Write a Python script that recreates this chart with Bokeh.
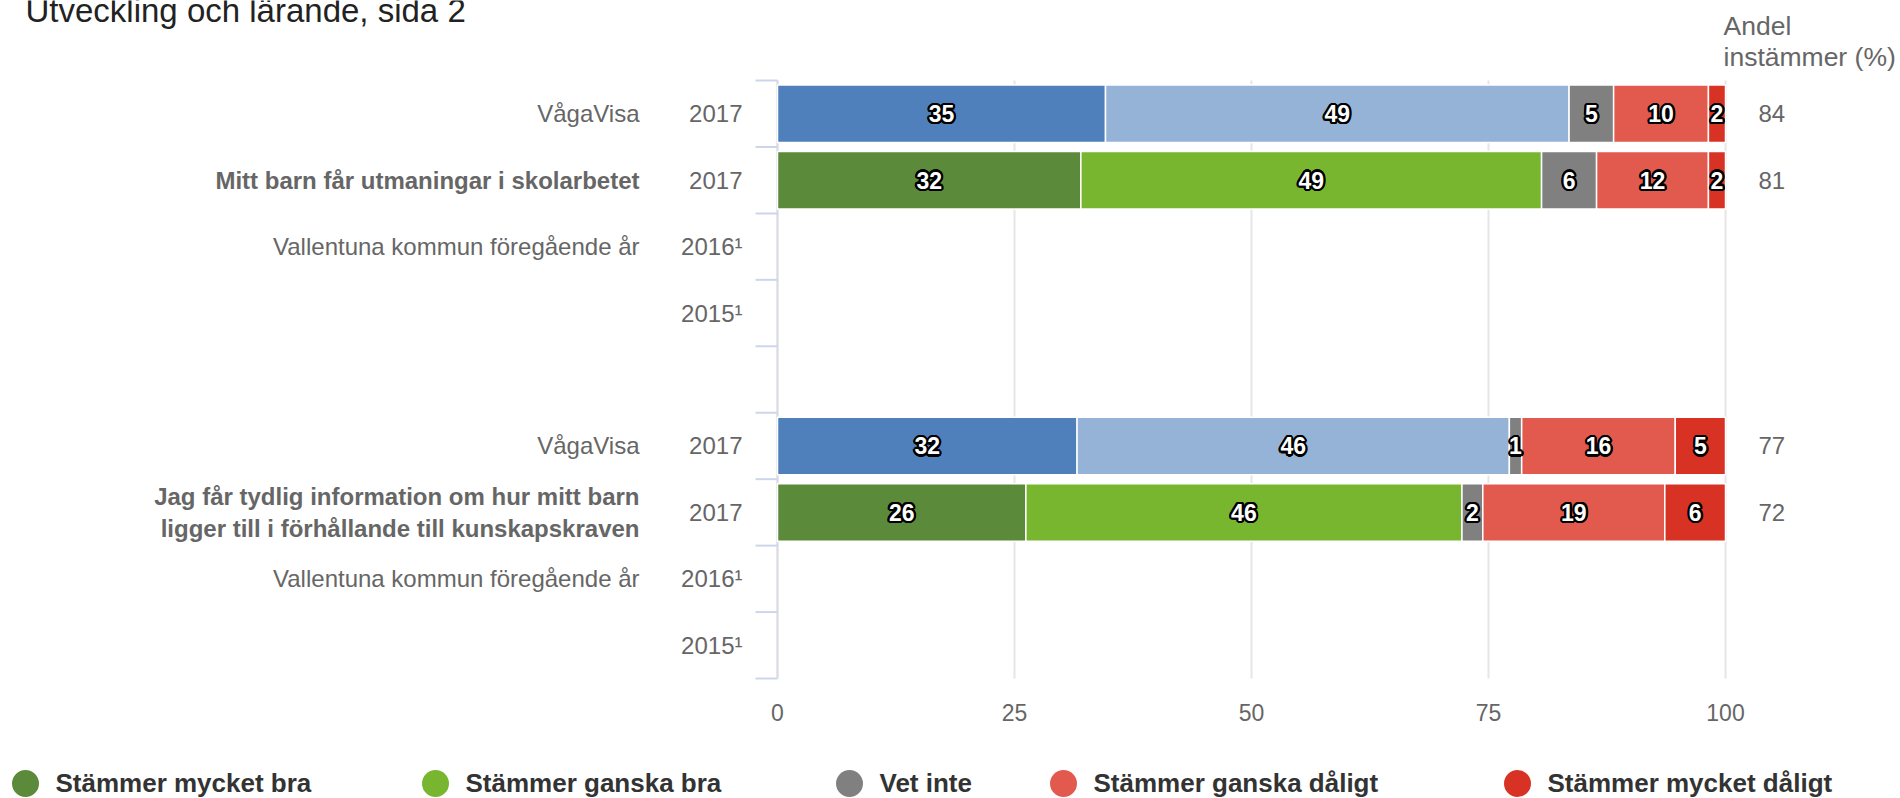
import math
from bokeh.plotting import figure
from bokeh.models import ColumnDataSource, Range1d
from bokeh.embed import file_html
from bokeh.resources import INLINE
from bokeh.core.properties import value

# ---------------- data ----------------
title = "Utveckling och lärande, sida 2"
series_names = ["Stämmer mycket bra", "Stämmer ganska bra", "Vet inte",
                "Stämmer ganska dåligt", "Stämmer mycket dåligt"]

# 9 category slots from top to bottom
slot_names = ["VågaVisa", "Mitt barn får utmaningar i skolarbetet",
              "Vallentuna kommun föregående år", "", "",
              "VågaVisa", "Jag får tydlig information om hur mitt barn|ligger till i förhållande till kunskapskraven",
              "Vallentuna kommun föregående år", ""]
slot_years = ["2017", "2017", "2016¹", "2015¹", "", "2017", "2017", "2016¹", "2015¹"]
slot_bold = [False, True, False, False, False, False, True, False, False]

# rows with bars (slot index)
bar_slots = [0, 1, 5, 6]
bar_is_vagavisa = [True, False, True, False]
mycket_bra = [34.6, 32.0, 31.6, 26.2]
ganska_bra = [48.9, 48.6, 45.6, 46.0]
vet_inte = [4.7, 5.8, 1.3, 2.2]
ganska_daligt = [10.0, 11.8, 16.2, 19.2]
mycket_daligt = [1.8, 1.8, 5.3, 6.4]
lbl_mycket_bra = ["35", "32", "32", "26"]
lbl_ganska_bra = ["49", "49", "46", "46"]
lbl_vet_inte = ["5", "6", "1", "2"]
lbl_ganska_daligt = ["10", "12", "16", "19"]
lbl_mycket_daligt = ["2", "2", "5", "6"]
andel_instammer = ["84", "81", "77", "72"]
x_ticks = [0, 25, 50, 75, 100]

# ---------------- styles / layout ----------------
FONT = "Liberation Sans"
colors_vaga = ["#4f80bc", "#95b3d7", "#808080", "#e25a4d", "#d73223"]
colors_main = ["#5b8b3a", "#77b62e", "#808080", "#e25a4d", "#d73223"]
legend_colors = colors_main
GREY_TXT = "#666666"

W, H = 1900, 798
FL, FR, FT, FB = 777, 1725, 80, 678       # plot area in pixels
NSLOT = 9
PPX = (FR - FL) / 100.0                    # px per x unit
PPY = (FB - FT) / NSLOT                    # px per slot


def slot_y(i):
    return NSLOT - i - 0.5


p = figure(width=W, height=H,
           x_range=Range1d(-FL / PPX, (W - FL) / PPX),
           y_range=Range1d(-(H - FB) / PPY, NSLOT + FT / PPY),
           output_backend="svg", toolbar_location=None, min_border=0,
           x_axis_location=None, y_axis_location=None)
p.extra_x_ranges = {"px": Range1d(0, W)}
p.extra_y_ranges = {"px": Range1d(H, 0)}
p.outline_line_color = None
p.grid.visible = False
p.background_fill_color = "white"
p.border_fill_color = "white"

# vertical grid lines within plot area
p.segment(x0=x_ticks, y0=[0] * len(x_ticks), x1=x_ticks, y1=[NSLOT] * len(x_ticks),
          line_color="#e6e6e6", line_width=2)

# category axis line and ticks
p.segment(x0=[0], y0=[0], x1=[0], y1=[NSLOT], line_color="#d9dce4", line_width=2)
bounds = list(range(NSLOT + 1))
p.segment(x0=[FL - 22] * len(bounds), y0=bounds, x1=[FL] * len(bounds), y1=bounds,
          x_range_name="px", line_color="#ccd6eb", line_width=2)

# x tick labels
p.text(x=x_ticks, y=[712] * len(x_ticks), text=[str(t) for t in x_ticks], y_range_name="px",
       text_font=value(FONT), text_font_size="23px", text_color=GREY_TXT,
       text_align="center", text_baseline="middle")

# bars
series = [mycket_bra, ganska_bra, vet_inte, ganska_daligt, mycket_daligt]
labels = [lbl_mycket_bra, lbl_ganska_bra, lbl_vet_inte, lbl_ganska_daligt, lbl_mycket_daligt]
bl, br, by, bc, lx, ly, lt = [], [], [], [], [], [], []
for r, slot in enumerate(bar_slots):
    cum = 0.0
    pal = colors_vaga if bar_is_vagavisa[r] else colors_main
    for s in range(len(series)):
        v = series[s][r]
        bl.append(cum)
        br.append(cum + v)
        by.append(slot_y(slot))
        bc.append(pal[s])
        lx.append(cum + v / 2)
        ly.append(slot_y(slot))
        lt.append(labels[s][r])
        cum += v

bars = ColumnDataSource(dict(left=bl, right=br, y=by, color=bc))
p.hbar(y="y", left="left", right="right", height=0.865, fill_color="color",
       line_color="white", line_width=1.5, source=bars)

# data labels: white bold text with thick dark outline
lab_src = ColumnDataSource(dict(x=lx, y=ly, text=lt))
for k in range(16):
    a = 2 * math.pi * k / 16
    p.text(x="x", y="y", text="text", source=lab_src, text_font=value(FONT),
           text_font_size="23px", text_font_style="bold", text_color="black",
           x_offset=2.2 * math.cos(a), y_offset=2.2 * math.sin(a),
           text_align="center", text_baseline="middle")
p.text(x="x", y="y", text="text", source=lab_src, text_font=value(FONT),
       text_font_size="23px", text_font_style="bold", text_color="white",
       text_align="center", text_baseline="middle")

# left labels
nx, ny, nt, nw = [], [], [], []
for i in range(NSLOT):
    name = slot_names[i]
    if name:
        parts = name.split("|")
        n = len(parts)
        for k, part in enumerate(parts):
            off = (k - (n - 1) / 2) * 31.5
            nx.append(639)
            ny.append(slot_y(i) - off / PPY)
            nt.append(part)
            nw.append("bold" if slot_bold[i] else "normal")
name_src = ColumnDataSource(dict(x=nx, y=ny, text=nt, w=nw))
p.text(x="x", y="y", text="text", text_font_style="w", source=name_src, x_range_name="px",
       text_font=value(FONT), text_font_size="24px", text_color=GREY_TXT,
       text_align="right", text_baseline="middle")

yr_idx = [i for i in range(NSLOT) if slot_years[i]]
p.text(x=[742] * len(yr_idx), y=[slot_y(i) for i in yr_idx], text=[slot_years[i] for i in yr_idx],
       x_range_name="px", text_font=value(FONT), text_font_size="24px", text_color=GREY_TXT,
       text_align="right", text_baseline="middle")

# right column
p.text(x=[1758] * len(bar_slots), y=[slot_y(s) for s in bar_slots], text=andel_instammer,
       x_range_name="px", text_font=value(FONT), text_font_size="24px", text_color=GREY_TXT,
       text_align="left", text_baseline="middle")
p.text(x=[1723, 1723], y=[25, 56], text=["Andel", "instämmer (%)"], x_range_name="px",
       y_range_name="px", text_font=value(FONT), text_font_size="26.5px", text_color=GREY_TXT,
       text_align="left", text_baseline="middle")

# title (partly cut at the top)
p.text(x=[25], y=[10], text=[title], x_range_name="px", y_range_name="px",
       text_font=value(FONT), text_font_size="33px", text_color="#222222",
       text_align="left", text_baseline="middle")

# legend
legend_circle_x = [25, 435, 849, 1063, 1517]
leg_src = ColumnDataSource(dict(cx=legend_circle_x, tx=[c + 30 for c in legend_circle_x],
                                y=[783] * 5, ty=[782] * 5, text=series_names,
                                color=legend_colors))
p.scatter(x="cx", y="y", size=27, marker="circle", fill_color="color", line_color=None,
          source=leg_src, x_range_name="px", y_range_name="px")
p.text(x="tx", y="ty", text="text", source=leg_src, x_range_name="px", y_range_name="px",
       text_font=value(FONT), text_font_size="26px", text_font_style="bold",
       text_color="#333333", text_align="left", text_baseline="middle")

open("out.html", "w").write(file_html(p, INLINE))
